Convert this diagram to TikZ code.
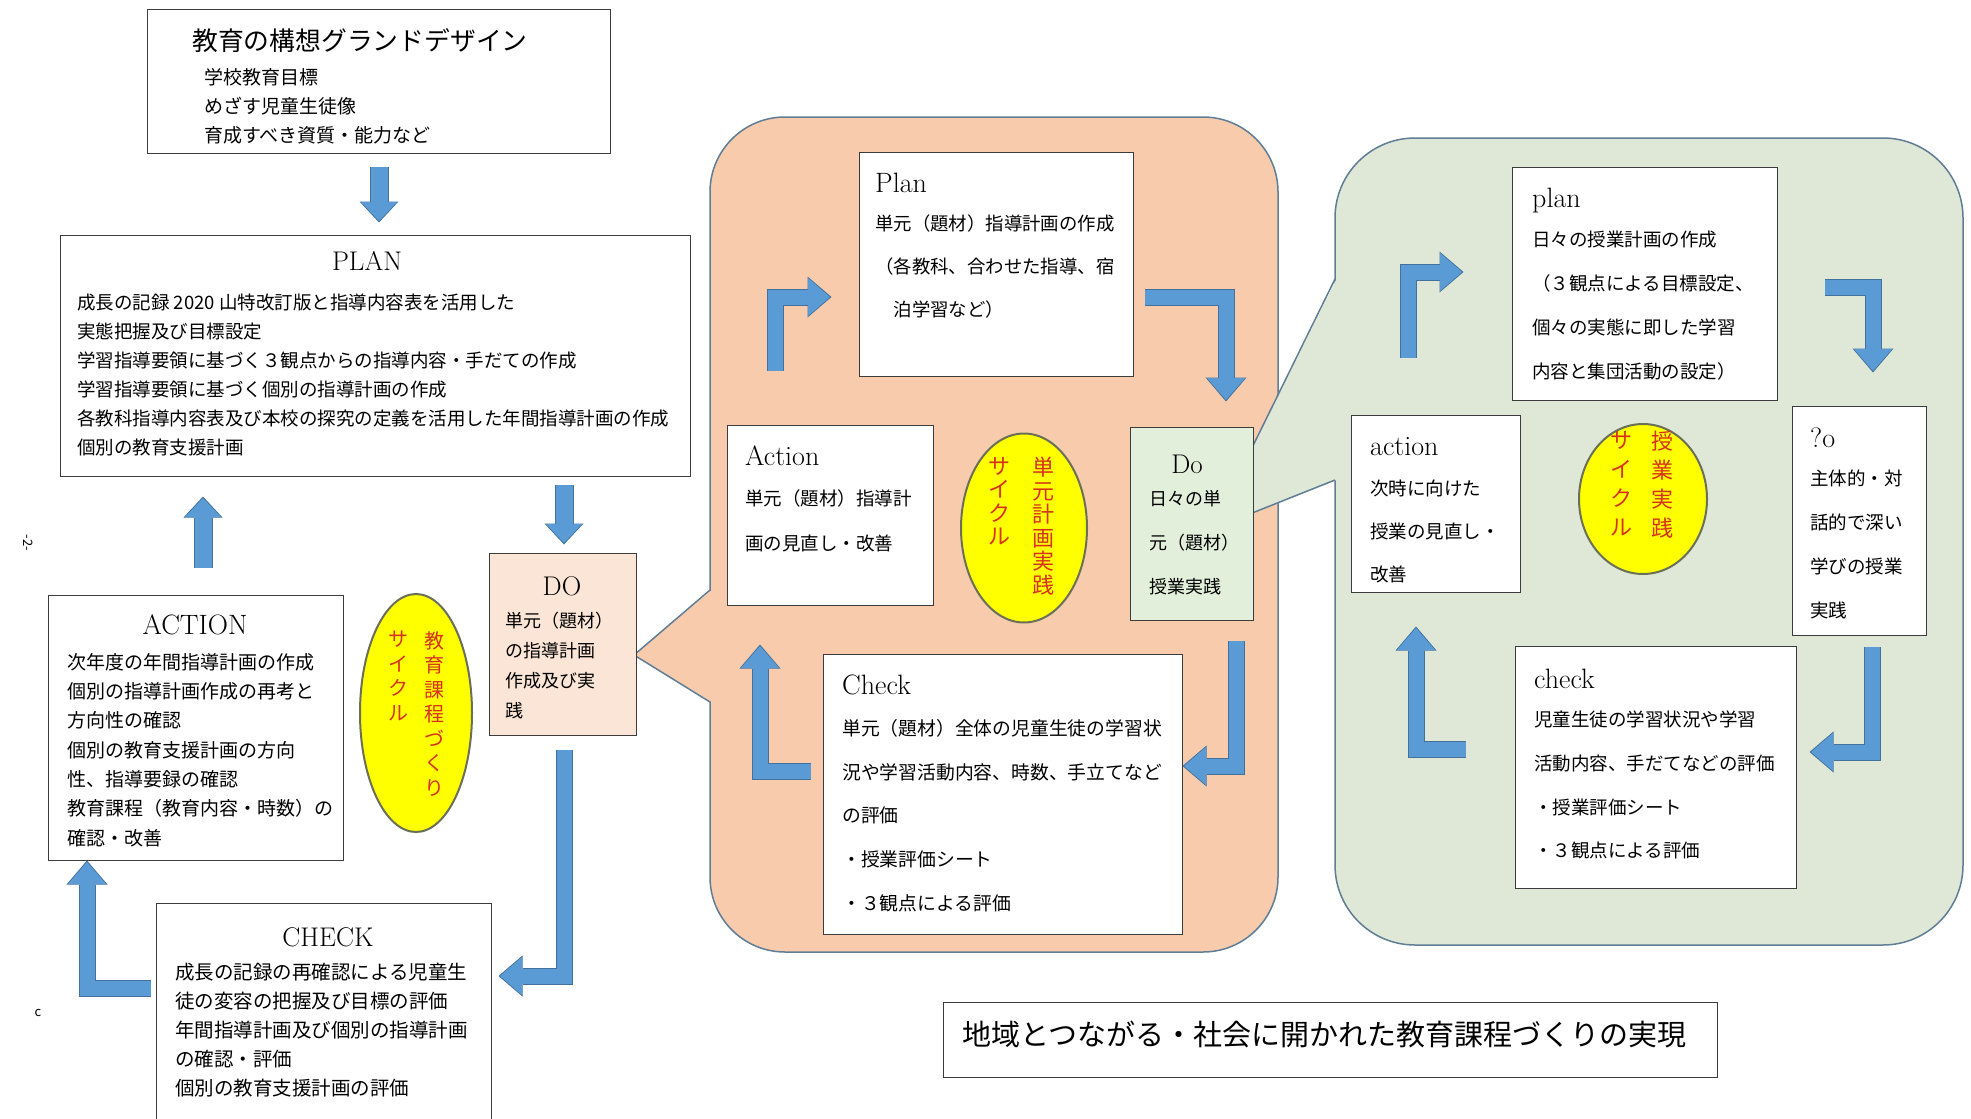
\documentclass[tikz,border=0pt]{standalone}
\usepackage{fontspec}
\newfontfamily\jp{Noto Sans CJK JP}
\newcommand{\jpf}[2]{\jp\fontsize{#1}{#2}\selectfont}
\newcommand{\lmf}[1]{\fontsize{#1}{#1}\selectfont}
\usetikzlibrary{arrows.meta,shapes.geometric,calc}
\definecolor{boxline}{RGB}{60,60,60}
\definecolor{arrowfill}{RGB}{91,155,213}
\definecolor{arrowline}{RGB}{65,113,156}
\definecolor{peachbg}{RGB}{248,203,173}
\definecolor{dopeach}{RGB}{251,229,214}
\definecolor{greenbg}{RGB}{223,231,215}
\definecolor{dogreen}{RGB}{226,239,218}
\definecolor{regionline}{RGB}{96,125,150}
\definecolor{ellfill}{RGB}{255,255,0}
\definecolor{elltext}{RGB}{215,50,25}
\definecolor{ellline}{RGB}{105,112,85}
\tikzset{
  box/.style={draw=boxline, line width=1.3pt, fill=white, inner sep=0pt, anchor=north west},
  body/.style={inner sep=0pt, anchor=north west, align=left},
  ttlc/.style={inner sep=0pt, anchor=center},
  ttlb/.style={inner sep=0pt, anchor=base west, font=\lmf{28}},
  ell/.style={ellipse, draw=ellline, line width=2pt, fill=ellfill, inner sep=0pt},
  vtxt/.style={inner sep=0pt, anchor=north, align=center, text=elltext},
  region/.style={draw=regionline, line width=1.5pt},
  sarrow/.style={draw=arrowfill, line width=17pt,
    -{Triangle[length=19pt 0 0, width=36pt 0 0, line width=0pt 0]},
    preaction={draw=arrowline, line width=19pt, shorten >=-1.5pt,
      -{Triangle[length=21pt 0 0, width=39pt 0 0, line width=0pt 0]}}},
  barrow/.style={draw=arrowfill, line width=15pt, line join=miter,
    -{Triangle[length=22pt 0 0, width=38pt 0 0, line width=0pt 0]},
    preaction={draw=arrowline, line width=17pt, line join=miter, shorten >=-1.5pt,
      -{Triangle[length=24pt 0 0, width=41pt 0 0, line width=0pt 0]}}}
}
\begin{document}
\begin{tikzpicture}[x=1pt,y=-1pt]
\fill[white] (0,0) rectangle (1971,1119);
\useasboundingbox (0,0) rectangle (1971,1119);

% ---------- regions ----------
\draw[region, fill=peachbg, rounded corners=75pt] (710,117) rectangle (1278,952);
\fill[peachbg] (634,655) -- (711.5,590) -- (711.5,702) -- cycle;
\draw[region] (710,590) -- (634,655) -- (710,702);

\draw[region, fill=greenbg, rounded corners=80pt] (1335,138) rectangle (1963,945);
\fill[greenbg] (1212,529) -- (1336.5,279) -- (1336.5,480) -- cycle;
\draw[region] (1335,279) -- (1212,529) -- (1335,480);

% ---------- left cycle ----------
\node[box, minimum width=463pt, minimum height=144pt] (grand) at (147,9) {};
\node[body, font=\jpf{25.8}{25.8}] (grandttl) at (192,28) {教育の構想グランドデザイン};
\node[body, font=\jpf{19}{29}] (grandtxt) at (204,68) {学校教育目標\\めざす児童生徒像\\育成すべき資質・能力など};

\node[box, minimum width=630pt, minimum height=241pt] (plan) at (60,235) {};
\node[ttlc, font=\lmf{27}] (planttl) at (367,261) {PLAN};
\node[body, font=\jpf{18.5}{29}] (plantxt) at (77,294) {成長の記録 2020 山特改訂版と指導内容表を活用した\\実態把握及び目標設定\\学習指導要領に基づく３観点からの指導内容・手だての作成\\学習指導要領に基づく個別の指導計画の作成\\各教科指導内容表及び本校の探究の定義を活用した年間指導計画の作成\\個別の教育支援計画};

\node[box, minimum width=295pt, minimum height=265pt] (action) at (48,595) {};
\node[ttlc, font=\lmf{28}] (actionttl) at (195,625) {ACTION};
\node[body, font=\jpf{19}{29.3}] (actiontxt) at (67,653) {次年度の年間指導計画の作成\\個別の指導計画作成の再考と\\方向性の確認\\個別の教育支援計画の方向\\性、指導要録の確認\\教育課程（教育内容・時数）の\\確認・改善};

\node[ell, minimum width=112pt, minimum height=238pt] (ell1) at (416,713) {};
\node[vtxt, font=\jpf{20}{24.5}] (ell1a) at (434,631) {教\\育\\課\\程\\づ\\く\\り};
\node[vtxt, font=\jpf{20}{24.5}] (ell1b) at (398,631) {サ\\イ\\ク\\ル};

\node[box, fill=dopeach, minimum width=147pt, minimum height=182pt] (do) at (489,553) {};
\node[ttlc, font=\lmf{27}] (dottl) at (562,586) {DO};
\node[body, font=\jpf{18}{30}] (dotxt) at (505,612) {単元（題材）\\の指導計画\\作成及び実\\践};

\node[box, minimum width=335pt, minimum height=240pt] (check) at (156,903) {};
\node[ttlc, font=\lmf{27}] (checkttl) at (328,937) {CHECK};
\node[body, font=\jpf{19.5}{29}] (checktxt) at (175,963) {成長の記録の再確認による児童生\\徒の変容の把握及び目標の評価\\年間指導計画及び個別の指導計画\\の確認・評価\\個別の教育支援計画の評価};

% ---------- middle cycle ----------
\node[box, minimum width=274pt, minimum height=224pt] (mplan) at (859,152) {};
\node[ttlb] (mplanttl) at (875,192) {Plan};
\node[body, font=\jpf{18.4}{43}] (mplantxt) at (875,215) {単元（題材）指導計画の作成\\（各教科、合わせた指導、宿\\　泊学習など）};

\node[box, minimum width=206pt, minimum height=180pt] (maction) at (727,425) {};
\node[ttlb] (mactionttl) at (745,465) {Action};
\node[body, font=\jpf{18.5}{45}] (mactiontxt) at (745,489) {単元（題材）指導計\\画の見直し・改善};

\node[ell, minimum width=126pt, minimum height=189pt] (ell2) at (1024,528) {};
\node[vtxt, font=\jpf{22}{23.5}] (ell2a) at (1043,457) {単\\元\\計\\画\\実\\践};
\node[vtxt, font=\jpf{22}{23.5}] (ell2b) at (999,457) {サ\\イ\\ク\\ル};

\node[box, fill=dogreen, minimum width=123pt, minimum height=193pt] (mdo) at (1130,427) {};
\node[ttlc, font=\lmf{27}] (mdottl) at (1187,464) {Do};
\node[body, font=\jpf{18}{44}] (mdotxt) at (1149,490) {日々の単\\元（題材）\\授業実践};

\node[box, minimum width=359pt, minimum height=280pt] (mcheck) at (823,654) {};
\node[ttlb] (mcheckttl) at (842,694) {Check};
\node[body, font=\jpf{18.8}{43.7}] (mchecktxt) at (842,719) {単元（題材）全体の児童生徒の学習状\\況や学習活動内容、時数、手立てなど\\の評価\\・授業評価シート\\・３観点による評価};

% ---------- right cycle ----------
\node[box, minimum width=265pt, minimum height=233pt] (gplan) at (1512,167) {};
\node[ttlb] (gplanttl) at (1532,207) {plan};
\node[body, font=\jpf{18.5}{44}] (gplantxt) at (1532,231) {日々の授業計画の作成\\（３観点による目標設定、\\個々の実態に即した学習\\内容と集団活動の設定）};

\node[box, minimum width=169pt, minimum height=177pt] (gaction) at (1351,415) {};
\node[ttlb] (gactionttl) at (1370,455) {action};
\node[body, font=\jpf{18.5}{43}] (gactiontxt) at (1370,480) {次時に向けた\\授業の見直し・\\改善};

\node[ell, minimum width=128pt, minimum height=150pt] (ell3) at (1643,499) {};
\node[vtxt, font=\jpf{22}{29}] (ell3a) at (1662,431) {授\\業\\実\\践};
\node[vtxt, font=\jpf{22}{29}] (ell3b) at (1621,431) {サ\\イ\\ク\\ル};

\node[box, minimum width=134pt, minimum height=229pt] (gdo) at (1792,406) {};
\node[ttlb] (gdottl) at (1810,447) {?o};
\node[body, font=\jpf{18.5}{44}] (gdotxt) at (1810,470) {主体的・対\\話的で深い\\学びの授業\\実践};

\node[box, minimum width=281pt, minimum height=242pt] (gcheck) at (1515,646) {};
\node[ttlb] (gcheckttl) at (1534,688) {check};
\node[body, font=\jpf{18.5}{43.7}] (gchecktxt) at (1534,711) {児童生徒の学習状況や学習\\活動内容、手だてなどの評価\\・授業評価シート\\・３観点による評価};

% ---------- bottom & margin marks ----------
\node[box, minimum width=774pt, minimum height=75pt] (goal) at (943,1002) {};
\node[body, font=\jpf{29}{29}] (goaltxt) at (962,1021) {地域とつながる・社会に開かれた教育課程づくりの実現};
\node[inner sep=0pt, font=\jpf{13}{13}, rotate=-90] (pagenum) at (28,543) {-2-};
\node[inner sep=0pt, font=\jpf{13}{13}] (cmark) at (38,1013) {c};

% ---------- connectors ----------
\coordinate (a1s) at (379,167); \coordinate (a1e) at (379,221);
\draw[sarrow] (a1s) -- (a1e);
\coordinate (a2s) at (203,568); \coordinate (a2e) at (203,498);
\draw[sarrow] (a2s) -- (a2e);
\coordinate (a3s) at (564,485); \coordinate (a3e) at (564,543);
\draw[sarrow] (a3s) -- (a3e);

\draw[barrow] (564,750) -- (564,976) -- (500,976);
\draw[barrow] (151,988) -- (87,988) -- (87,862);
\draw[barrow] (775,371) -- (775,297) -- (830,297);
\draw[barrow] (1145,297) -- (1226,297) -- (1226,400);
\draw[barrow] (1236,641) -- (1236,766) -- (1184,766);
\draw[barrow] (811,771) -- (760,771) -- (760,646);
\draw[barrow] (1408,358) -- (1408,272) -- (1462,272);
\draw[barrow] (1825,287) -- (1873,287) -- (1873,371);
\draw[barrow] (1872,647) -- (1872,752) -- (1811,752);
\draw[barrow] (1466,749) -- (1416,749) -- (1416,628);
\end{tikzpicture}
\end{document}
